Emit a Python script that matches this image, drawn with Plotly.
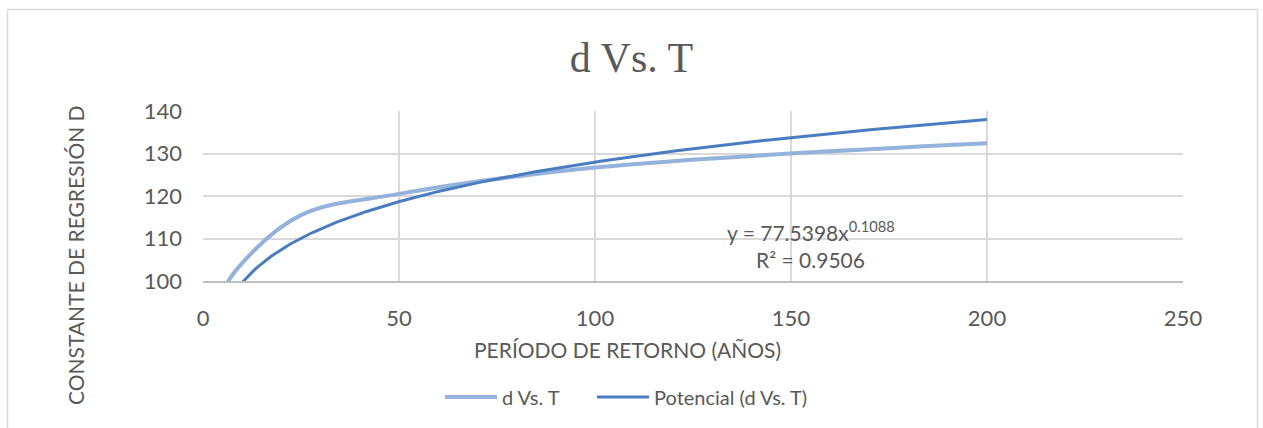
import numpy as np
import plotly.graph_objects as go

# Return period T (years) and regression constant d
periodo_T = [2, 5, 10, 25, 50, 100, 200]
constante_d = [75.3, 97.0, 104.2, 115.5, 120.5, 126.7, 132.4]

# Power trendline coefficients: y = a * x^b
coef_a = 77.5398
coef_b = 0.1088
r_cuadrado = 0.9506

x_ticks = [0, 50, 100, 150, 200, 250]
y_ticks = [100, 110, 120, 130, 140]

W, H = 1263, 428
ML, MR, MT, MB = 203, 80, 111, 147

GRAY_TXT = "#595959"
LIGHT = "#94B2DC"
DARK = "#4A7CC0"
FONT = "Lato"

x_fit = np.linspace(min(periodo_T), max(periodo_T), 300)
y_fit = coef_a * x_fit ** coef_b

series = [
    dict(name="d Vs. T", color=LIGHT, width=4),
    dict(name="Potencial (d Vs. T)", color=DARK, width=3),
]

fig = go.Figure()
fig.add_trace(go.Scatter(
    x=periodo_T, y=constante_d, mode="lines", name=series[0]["name"],
    line=dict(color=LIGHT, width=4, shape="spline", smoothing=1.0),
    showlegend=False,
))
fig.add_trace(go.Scatter(
    x=x_fit, y=y_fit, mode="lines", name=series[1]["name"],
    line=dict(color=DARK, width=3), showlegend=False,
))

def px_to_paper_x(px):
    return (px - ML) / (W - ML - MR)

def px_to_paper_y(py):
    return (H - MB - py) / (H - MT - MB)

fig.update_layout(
    width=W, height=H,
    margin=dict(l=ML, r=MR, t=MT, b=MB),
    paper_bgcolor="white", plot_bgcolor="white",
    font=dict(family=FONT, color=GRAY_TXT, size=20),
    title=dict(text="d Vs. T", xref="container", x=0.5, xanchor="center",
               yref="container", y=1 - 57 / H, yanchor="middle",
               font=dict(family="Liberation Serif", size=42, color=GRAY_TXT)),
    xaxis=dict(range=[0, 250], tickvals=x_ticks, showgrid=True,
               gridcolor="#D9D9D9", gridwidth=1.5, zeroline=False,
               showline=True, linecolor="#BFBFBF", linewidth=2,
               ticks="", ticklabelstandoff=17,
               tickfont=dict(family=FONT, size=22, color=GRAY_TXT)),
    yaxis=dict(range=[100, 140], tickvals=y_ticks, showgrid=True,
               gridcolor="#D9D9D9", gridwidth=1.5, zeroline=False,
               showline=False, ticks="", ticklabelstandoff=20,
               tickfont=dict(family=FONT, size=22, color=GRAY_TXT)),
    showlegend=False,
)

# Axis titles
fig.add_annotation(text="PERÍODO DE RETORNO (AÑOS)", xref="paper", yref="paper",
                   x=px_to_paper_x(627), y=px_to_paper_y(349),
                   xanchor="center", yanchor="middle", showarrow=False,
                   font=dict(family=FONT, size=21, color=GRAY_TXT))
fig.add_annotation(text="CONSTANTE DE REGRESIÓN D", xref="paper", yref="paper",
                   x=px_to_paper_x(75), y=px_to_paper_y(255), textangle=-90,
                   xanchor="center", yanchor="middle", showarrow=False,
                   font=dict(family=FONT, size=21, color=GRAY_TXT))

# Trendline equation and R²
fig.add_annotation(text=f"y = {coef_a:.4f}x<sup>{coef_b:.4f}</sup>", xref="x", yref="y",
                   x=155.1, y=111.8, xanchor="center", yanchor="middle",
                   showarrow=False, font=dict(family=FONT, size=21, color=GRAY_TXT))
fig.add_annotation(text=f"R² = {r_cuadrado:.4f}", xref="x", yref="y",
                   x=155.1, y=105.0, xanchor="center", yanchor="middle",
                   showarrow=False, font=dict(family=FONT, size=21, color=GRAY_TXT))

# Legend row: line sample followed by series name
legend_y = 397
legend_x0 = [445, 597]
for s, x0 in zip(series, legend_x0):
    fig.add_shape(type="line", xref="paper", yref="paper",
                  x0=px_to_paper_x(x0), x1=px_to_paper_x(x0 + 52),
                  y0=px_to_paper_y(legend_y), y1=px_to_paper_y(legend_y),
                  line=dict(color=s["color"], width=s["width"]))
    fig.add_annotation(text=s["name"], xref="paper", yref="paper",
                       x=px_to_paper_x(x0 + 55), y=px_to_paper_y(legend_y),
                       xanchor="left", yanchor="middle", showarrow=False,
                       font=dict(family=FONT, size=20, color=GRAY_TXT))

# Chart frame
fig.add_shape(type="rect", xref="paper", yref="paper",
              x0=px_to_paper_x(7.5), x1=px_to_paper_x(1257.5),
              y0=px_to_paper_y(440), y1=px_to_paper_y(9.5),
              line=dict(color="#D9D9D9", width=1.5), layer="below")

fig.write_html("out.html")
